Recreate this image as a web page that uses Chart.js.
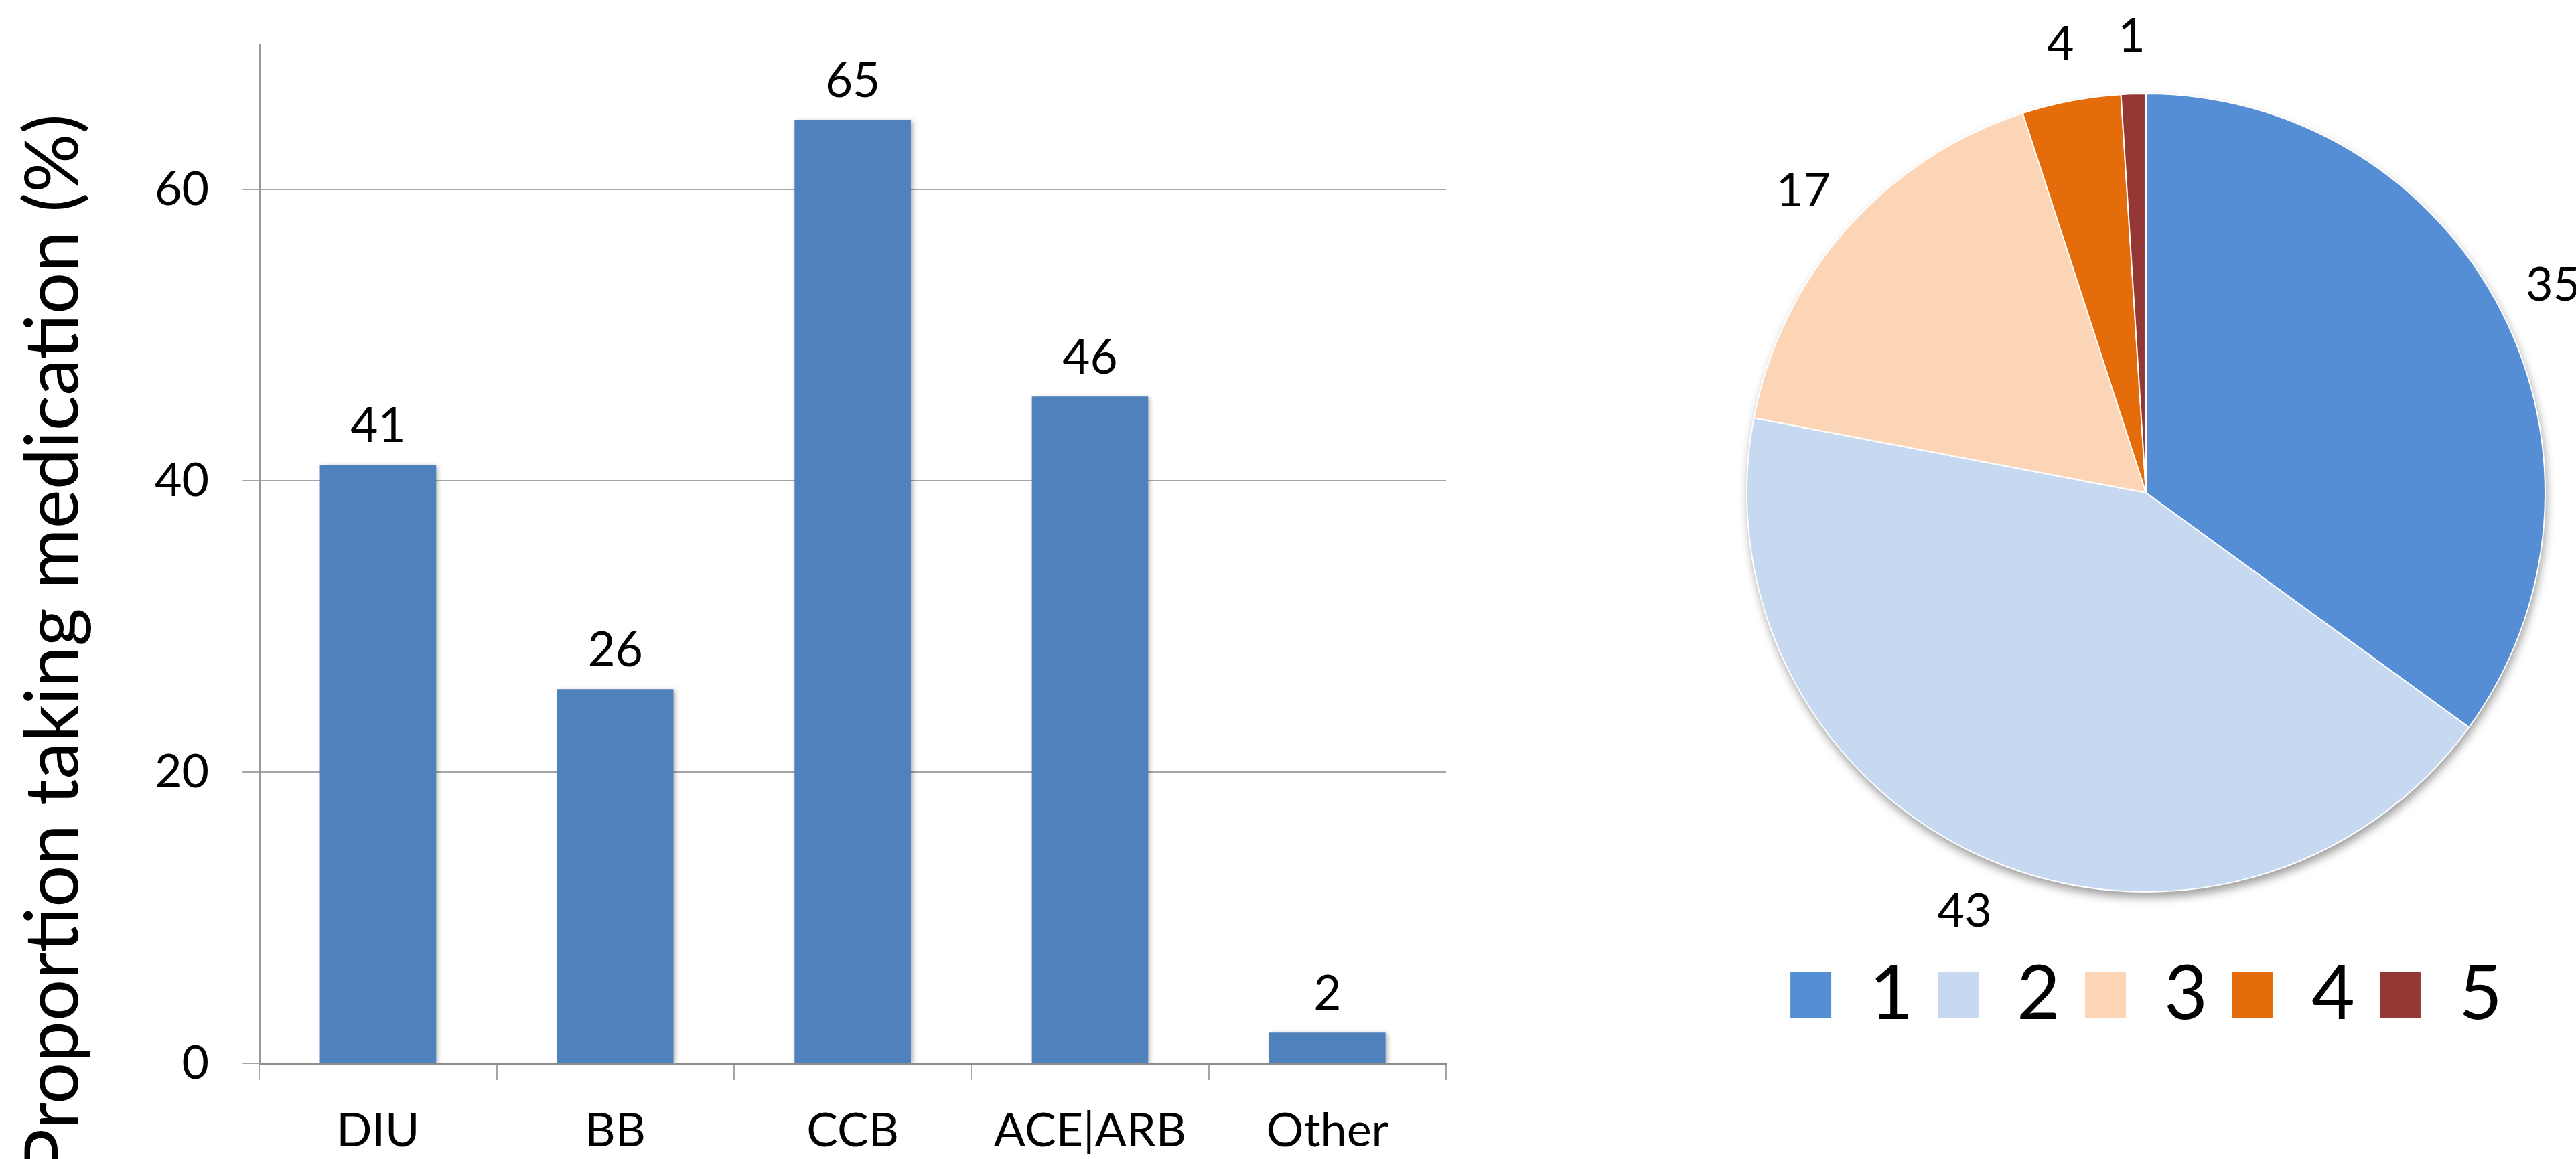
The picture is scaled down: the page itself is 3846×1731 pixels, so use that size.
<!DOCTYPE html>
<html lang="en">
<head>
    <meta charset="UTF-8">
    <title>Medication classes and number of drugs</title>
    <script src="https://cdn.jsdelivr.net/npm/chart.js@4.4.0/dist/chart.umd.min.js"></script>
    <style>
        body {
            margin: 0;
            background-color: #FFFFFF;
            width: 3846px;
            height: 1731px;
            overflow: hidden;
            position: relative;
        }
        #barBox {
            position: absolute;
            left: 0;
            top: 0;
            width: 2300px;
            height: 1731px;
        }
        #pieBox {
            position: absolute;
            left: 2562px;
            top: 0;
            width: 1284px;
            height: 1731px;
        }
    </style>
</head>
<body>
    <div id="barBox"><canvas id="barChart"></canvas></div>
    <div id="pieBox"><canvas id="pieChart"></canvas></div>

    <script>
        // bar chart: share of patients on each drug class
        const drugClasses = ['DIU', 'BB', 'CCB', 'ACE|ARB', 'Other'];
        const takingPct = [41.1, 25.7, 64.8, 45.8, 2.1];
        const yTicks = [0, 20, 40, 60];
        const yTitle = 'Proportion taking medication (%)';

        // pie chart: number of drugs taken
        const drugCounts = ['1', '2', '3', '4', '5'];
        const countShares = [35, 43, 17, 4, 1];

        const barColor = '#4F81BD';
        const pieColors = ['#558ED5', '#C6D9F1', '#FBD5B5', '#E46C0A', '#953735'];
        const fontFamily = 'Lato, "Open Sans", sans-serif';
        const gridColor = '#A6A6A6';

        Chart.defaults.font.family = fontFamily;
        Chart.defaults.color = '#000000';

        // soft shadow behind the bars, like the office chart
        const barShadow = {
            id: 'barShadow',
            beforeDatasetsDraw(chart) {
                const ctx = chart.ctx;
                ctx.save();
                ctx.shadowColor = 'rgba(0, 0, 0, 0.30)';
                ctx.shadowBlur = 7;
                ctx.shadowOffsetX = 3;
                ctx.shadowOffsetY = 2;
            },
            afterDatasetsDraw(chart) {
                chart.ctx.restore();
            }
        };

        // value written above each bar
        const barValues = {
            id: 'barValues',
            afterDatasetsDraw(chart) {
                const ctx = chart.ctx;
                const meta = chart.getDatasetMeta(0);
                ctx.save();
                ctx.font = '71px ' + fontFamily;
                ctx.fillStyle = '#000000';
                ctx.textAlign = 'center';
                ctx.textBaseline = 'alphabetic';
                meta.data.forEach((bar, i) => {
                    ctx.fillText(Math.round(takingPct[i]), bar.x, bar.y - 34);
                });
                ctx.restore();
            }
        };

        // y title sits lower than the axis centre in the original
        const barYTitle = {
            id: 'barYTitle',
            afterDraw(chart) {
                const ctx = chart.ctx;
                const area = chart.chartArea;
                ctx.save();
                ctx.translate(116, (area.top + area.bottom) / 2 + 134);
                ctx.rotate(-Math.PI / 2);
                ctx.font = '110px ' + fontFamily;
                ctx.fillStyle = '#000000';
                ctx.textAlign = 'center';
                ctx.textBaseline = 'alphabetic';
                ctx.fillText(yTitle, 0, 0);
                ctx.restore();
            }
        };

        new Chart(document.getElementById('barChart'), {
            type: 'bar',
            data: {
                labels: drugClasses,
                datasets: [{
                    data: takingPct,
                    backgroundColor: barColor,
                    borderWidth: 0,
                    categoryPercentage: 1.0,
                    barPercentage: 0.49
                }]
            },
            options: {
                responsive: true,
                maintainAspectRatio: false,
                animation: false,
                layout: { padding: { left: 181, right: 141, top: 66, bottom: 0 } },
                plugins: {
                    legend: { display: false },
                    tooltip: { enabled: false }
                },
                scales: {
                    x: {
                        afterFit: scale => { scale.height = 143; },
                        grid: {
                            offset: true,
                            drawOnChartArea: false,
                            tickLength: 25,
                            color: gridColor,
                            lineWidth: 2
                        },
                        border: { color: '#8C8C8C', width: 3 },
                        ticks: {
                            font: { size: 70 },
                            color: '#000000',
                            padding: 34,
                            maxRotation: 0,
                            autoSkip: false
                        }
                    },
                    y: {
                        min: 0,
                        max: 70,
                        afterBuildTicks: scale => {
                            scale.ticks = yTicks.map(v => ({ value: v }));
                        },
                        afterFit: scale => { scale.paddingTop = 0; },
                        grid: {
                            tickLength: 25,
                            color: gridColor,
                            lineWidth: 2
                        },
                        border: { color: '#999999', width: 3 },
                        ticks: {
                            font: { size: 70 },
                            color: '#000000',
                            padding: 50
                        }
                    }
                }
            },
            plugins: [barShadow, barValues, barYTitle]
        });

        // shadow under the whole pie
        const pieShadow = {
            id: 'pieShadow',
            beforeDatasetsDraw(chart) {
                const arc = chart.getDatasetMeta(0).data[0];
                if (!arc) return;
                const ctx = chart.ctx;
                ctx.save();
                ctx.shadowColor = 'rgba(0, 0, 0, 0.40)';
                ctx.shadowBlur = 14;
                ctx.shadowOffsetX = 2;
                ctx.shadowOffsetY = 8;
                ctx.fillStyle = '#FFFFFF';
                ctx.beginPath();
                ctx.arc(arc.x, arc.y, arc.outerRadius, 0, Math.PI * 2);
                ctx.fill();
                ctx.restore();
            }
        };

        // share numbers just outside each slice
        const pieValues = {
            id: 'pieValues',
            afterDatasetsDraw(chart) {
                const ctx = chart.ctx;
                const meta = chart.getDatasetMeta(0);
                ctx.save();
                ctx.font = '70px ' + fontFamily;
                ctx.fillStyle = '#000000';
                ctx.textAlign = 'center';
                ctx.textBaseline = 'middle';
                meta.data.forEach((arc, i) => {
                    const p = arc.getProps(['x', 'y', 'startAngle', 'endAngle', 'outerRadius'], true);
                    const mid = (p.startAngle + p.endAngle) / 2;
                    const r = p.outerRadius + 86;
                    ctx.fillText(countShares[i], p.x + Math.cos(mid) * r, p.y + Math.sin(mid) * r);
                });
                ctx.restore();
            }
        };

        new Chart(document.getElementById('pieChart'), {
            type: 'pie',
            data: {
                labels: drugCounts,
                datasets: [{
                    data: countShares,
                    backgroundColor: pieColors,
                    borderColor: '#FFFFFF',
                    borderWidth: 2
                }]
            },
            options: {
                responsive: true,
                maintainAspectRatio: false,
                animation: false,
                layout: { padding: { left: 45, right: 45, top: 78, bottom: 179 } },
                plugins: {
                    tooltip: { enabled: false },
                    legend: {
                        position: 'bottom',
                        labels: {
                            font: { size: 112 },
                            color: '#000000',
                            boxWidth: 63,
                            boxHeight: 71,
                            padding: 36
                        }
                    }
                }
            },
            plugins: [pieShadow, pieValues]
        });
    </script>
</body>
</html>
